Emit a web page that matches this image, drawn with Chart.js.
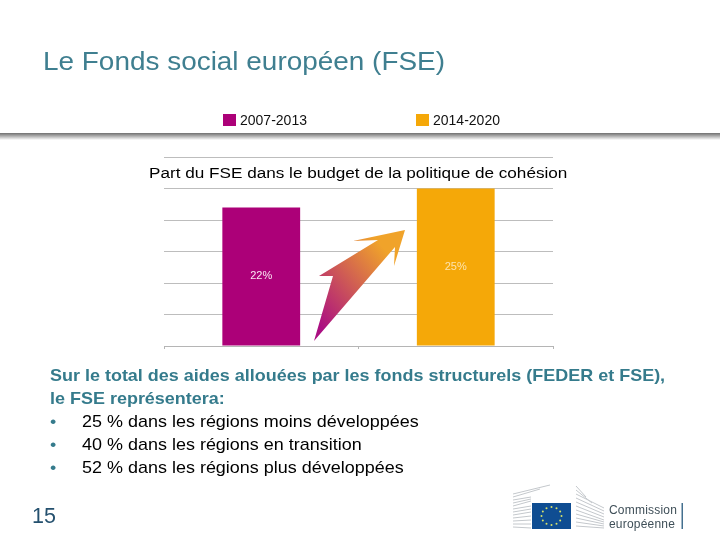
<!DOCTYPE html>
<html lang="fr">
<head>
<meta charset="utf-8">
<title>Le Fonds social européen (FSE)</title>
<script src="https://cdn.jsdelivr.net/npm/chart.js@4"></script>
<style>
    body { margin: 0; width: 720px; height: 540px; overflow: hidden; background: #fff; position: relative; font-family: "Liberation Sans", Arial, sans-serif; }
    #chart { position: absolute; left: 0; top: 0; }
    .abs { position: absolute; white-space: nowrap; }
    /* the slide text is a bit stretched sideways in the original */
    #slideTitle { left: 43px; top: 46px; font-size: 25.5px; line-height: 30px; color: #3f7f90; transform: scaleX(1.095); transform-origin: left; }
    #rule { left: 0; top: 133px; width: 720px; height: 7px; background: linear-gradient(#707070, #a8a8a8 40%, #fff); }
    .swatch { width: 13px; height: 12px; }
    .legendText { font-size: 14px; line-height: 16px; color: #111; }
    #chartTitle { left: 149px; top: 164px; font-size: 15.5px; line-height: 18px; color: #000; transform: scaleX(1.106); transform-origin: left; }
    #body { left: 50px; top: 364px; font-size: 17px; line-height: 23px; font-weight: bold; color: #357b8c; transform: scaleX(1.057); transform-origin: left; }
    #body div { height: 23px; }
    #body .item { font-weight: normal; color: #000; }
    #body .bullet { display: inline-block; width: 30.3px; color: #357b8c; }
    #pageNo { left: 32px; top: 503px; font-size: 21.5px; line-height: 26px; color: #24506e; }
    #overlay { position: absolute; left: 0; top: 0; }
    .logoText { font-size: 12px; line-height: 13px; letter-spacing: 0.2px; color: #3f4f58; }
</style>
</head>
<body>
<canvas id="chart" width="720" height="540"></canvas>

<div class="abs" id="slideTitle">Le Fonds social européen (FSE)</div>
<div class="abs" id="rule"></div>
<div class="abs swatch" id="swatch0" style="left:223px;top:114px"></div>
<div class="abs legendText" id="legend0" style="left:240px;top:112px"></div>
<div class="abs swatch" id="swatch1" style="left:416px;top:114px"></div>
<div class="abs legendText" id="legend1" style="left:433px;top:112px"></div>
<div class="abs" id="chartTitle">Part du FSE dans le budget de la politique de cohésion</div>

<svg id="overlay" width="720" height="540">
    <defs>
        <linearGradient id="arrowFill" x1="0" y1="1" x2="1" y2="0">
            <stop offset="0.1" stop-color="#ab0f82"/>
            <stop offset="0.8" stop-color="#f0a32a"/>
        </linearGradient>
    </defs>
    <polygon fill="url(#arrowFill)" points="314,341 333,276 319,276 378,240 353,241 405,230 394,266 395,247"/>
    <!-- logo -->
    <g stroke="#c4c8cc" stroke-width="1">
        <path d="M513,500 L531,497 M513,503 L531,499 M513,506 L531,501 M513,497 L540,489 M513,494 L550,485 M513,509 L531,506 M513,512 L531,509 M513,515 L531,512 M513,518 L531,516 M513,521 L531,520 M513,524 L531,524 M513,527 L531,528"/>
        <path d="M576,486 L586,497 M576,490 L592,503 M576,494 L604,508 M576,498 L604,511 M576,502 L604,514 M576,506 L604,517 M576,510 L604,520 M576,514 L604,522 M576,518 L604,524 M576,522 L604,526 M576,526 L604,528"/>
    </g>
    <rect x="532" y="503" width="39" height="26" fill="#0f4d92"/>
    <g id="stars" fill="#d8e26a"></g>
    <rect x="681.5" y="503" width="1.5" height="26" fill="#44708f"/>
</svg>

<div class="abs" id="body">
    <div>Sur le total des aides allouées par les fonds structurels (FEDER et FSE),</div>
    <div>le FSE représentera:</div>
    <div class="item"><span class="bullet">•</span>25 % dans les régions moins développées</div>
    <div class="item"><span class="bullet">•</span>40 % dans les régions en transition</div>
    <div class="item"><span class="bullet">•</span>52 % dans les régions plus développées</div>
</div>
<div class="abs" id="pageNo">15</div>
<div class="abs logoText" style="left:609px;top:504px">Commission</div>
<div class="abs logoText" style="left:609px;top:518px">européenne</div>

<script>
// Chart data
const periods = ['2007-2013', '2014-2020'];
const shares = [22, 25];
const barColors = ['#ac0078', '#f5a808'];
const labelColors = ['#fbe6f3', '#fde3ae'];
const yTicks = [0, 5, 10, 15, 20, 25, 30];

// Legend is plain html, spaced like the slide
periods.forEach((period, i) => {
    document.getElementById('legend' + i).textContent = period;
    document.getElementById('swatch' + i).style.background = barColors[i];
});

// EU flag stars
const stars = document.getElementById('stars');
for (let i = 0; i < 12; i++) {
    const a = i * Math.PI / 6;
    const c = document.createElementNS('http://www.w3.org/2000/svg', 'circle');
    c.setAttribute('cx', 551.5 + 10 * Math.cos(a));
    c.setAttribute('cy', 516 + 9 * Math.sin(a));
    c.setAttribute('r', 1);
    stars.appendChild(c);
}

// Value labels in the middle of each bar
const barLabels = {
    id: 'barLabels',
    afterDatasetsDraw(chart) {
        const ctx = chart.ctx;
        ctx.save();
        ctx.font = '11px "Liberation Sans", Arial, sans-serif';
        ctx.textAlign = 'center';
        ctx.textBaseline = 'middle';
        chart.getDatasetMeta(0).data.forEach((bar, i) => {
            const pos = bar.getCenterPoint();
            ctx.fillStyle = labelColors[i];
            ctx.fillText(shares[i] + '%', pos.x, pos.y);
        });
        ctx.restore();
    }
};

new Chart(document.getElementById('chart').getContext('2d'), {
    type: 'bar',
    data: {
        labels: periods,
        datasets: [{
            data: shares,
            backgroundColor: barColors,
            borderWidth: 0,
            categoryPercentage: 1,
            barPercentage: 0.4
        }]
    },
    options: {
        responsive: false,
        animation: false,
        layout: { padding: { left: 164, right: 167, top: 157, bottom: 191 } },
        plugins: { legend: { display: false }, title: { display: false }, tooltip: { enabled: false } },
        scales: {
            x: {
                grid: { drawOnChartArea: false, drawTicks: true, tickLength: 3, color: '#b5b5b5', offset: true },
                border: { color: '#b5b5b5' },
                ticks: { display: false }
            },
            y: {
                min: 0,
                max: 30,
                afterBuildTicks: axis => { axis.ticks = yTicks.map(value => ({ value })); },
                grid: { color: '#bdbdbd', drawTicks: false },
                border: { display: false },
                ticks: { display: false }
            }
        }
    },
    plugins: [barLabels]
});
</script>
</body>
</html>
